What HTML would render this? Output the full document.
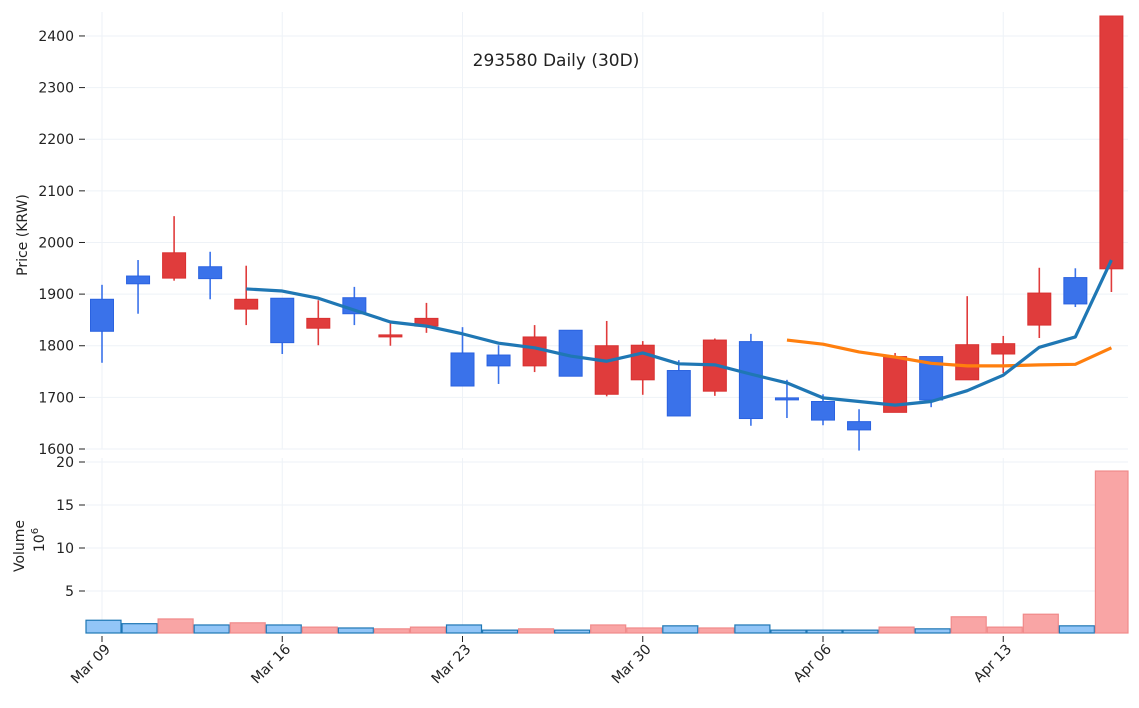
<!DOCTYPE html>
<html><head><meta charset="utf-8"><style>
body{margin:0;background:#fff;font-family:"DejaVu Sans","Liberation Sans",sans-serif}
svg text{font-family:"DejaVu Sans","Liberation Sans",sans-serif;fill:#222}
</style></head><body>
<svg id="c" width="1139" height="704"></svg>
<script>
const dates=["Mar 09","","","","","Mar 16","","","","","Mar 23","","","","","Mar 30","","","","","Apr 06","","","","","Apr 13","","",""];
const opens=[1890,1935,1931,1953,1871,1892,1834,1893,1818,1838,1786,1782,1761,1830,1706,1734,1752,1712,1808,1699,1692,1653,1671,1779,1734,1784,1840,1932,1949];
const closes=[1828,1920,1980,1930,1890,1806,1853,1862,1821,1853,1722,1761,1817,1741,1800,1801,1664,1811,1659,1696,1656,1637,1779,1695,1802,1804,1902,1881,2439];
const highs=[1918,1966,2051,1982,1955,1892,1888,1914,1844,1883,1836,1801,1840,1830,1848,1809,1772,1814,1823,1734,1706,1677,1786,1779,1896,1819,1951,1950,2439];
const lows=[1767,1862,1926,1890,1840,1784,1801,1840,1800,1825,1722,1726,1749,1741,1702,1705,1664,1703,1645,1660,1646,1597,1671,1681,1734,1747,1815,1875,1904];
const volumes=[1.6,1.2,1.75,1.05,1.3,1.05,0.8,0.7,0.6,0.8,1.05,0.45,0.6,0.45,1.05,0.7,0.95,0.7,1.05,0.45,0.45,0.45,0.8,0.6,2.0,0.8,2.3,0.95,18.95];
const ma5=[null,null,null,null,1910,1906,1892,1869,1846,1838,1823,1805,1796,1780,1770,1786,1765,1763,1745,1728,1699,1692,1685,1692,1713,1743,1797,1817,1966];
const ma20=[null,null,null,null,null,null,null,null,null,null,null,null,null,null,null,null,null,null,null,1811,1803,1788,1778,1766,1761,1761,1763,1764,1796];
const priceTicks=[1600,1700,1800,1900,2000,2100,2200,2300,2400];
const volTicks=[5,10,15,20];

const NS="http://www.w3.org/2000/svg",svg=document.getElementById('c');
function el(t,a,p){const e=document.createElementNS(NS,t);for(const k in a)e.setAttribute(k,a[k]);(p||svg).appendChild(e);return e;}
const X=i=>102+36.05*i;
const PY=p=>449-(p-1600)*0.5163;
const VY=v=>634-v*8.6;
const L=86,R=1128;

const g=el('g',{});


dates.forEach((d,i)=>{if(d){el('line',{x1:X(i),x2:X(i),y1:12,y2:449,stroke:'#eef2f7'},g);el('line',{x1:X(i),x2:X(i),y1:458,y2:633,stroke:'#eef2f7'},g);}});
priceTicks.forEach(p=>{el('line',{x1:L,x2:R,y1:PY(p),y2:PY(p),stroke:'#eef2f7'},g);
 const t=el('text',{x:74,y:PY(p)+5,'text-anchor':'end','font-size':14});t.textContent=p;
 
 el('line',{x1:79,x2:85,y1:PY(p),y2:PY(p),stroke:'#222'});});
volTicks.forEach(v=>{el('line',{x1:L,x2:R,y1:VY(v),y2:VY(v),stroke:'#eef2f7'},g);
 const t=el('text',{x:74,y:VY(v)+5,'text-anchor':'end','font-size':14});t.textContent=v;
 
 el('line',{x1:79,x2:85,y1:VY(v),y2:VY(v),stroke:'#222'});});

volumes.forEach((v,i)=>{const up=closes[i]>=opens[i];const top=Math.max(VY(v),462);
 const x0=X(i)-16,x1=Math.min(X(i)+19,R);
 const b=el('rect',{x:x0,y:top,width:x1-x0,height:633-top,fill:up?'#f9a5a5':'#92c5f7',stroke:up?'#f08a8a':'#1f77b4','stroke-width':1.2});
 });

opens.forEach((o,i)=>{const c=closes[i],up=c>=o,col=up?'#e03c3c':'#3a72ea',ed=up?'#d93030':'#2a62e0';
 const w=el('line',{x1:X(i),x2:X(i),y1:Math.max(PY(highs[i]),14),y2:PY(lows[i]),stroke:col,'stroke-width':1.6});
 
 const t=Math.max(PY(Math.max(o,c)),16),h=Math.max(PY(Math.min(o,c))-t,2);
 const r=el('rect',{x:X(i)-11.5,y:t,width:23,height:h,fill:col,stroke:ed,'stroke-width':1});
 });

function line(arr,color,name){let d='';arr.forEach((v,i)=>{if(v==null)return;d+=(d?'L':'M')+X(i)+' '+PY(v);});
 const p=el('path',{d:d,fill:'none',stroke:color,'stroke-width':3.2,'stroke-linejoin':'round'});
 }
line(ma20,'#ff7f0e','ma20-line');line(ma5,'#1f77b4','ma5-line');

dates.forEach((d,i)=>{if(!d)return;el('line',{x1:X(i),x2:X(i),y1:636,y2:642,stroke:'#222'});
 const ax=X(i)+9,ay=650;
 const t=el('text',{x:ax,y:ay,'text-anchor':'end','font-size':14,transform:`rotate(-45 ${ax} ${ay})`});t.textContent=d;
 });

let t=el('text',{x:556,y:66,'text-anchor':'middle','font-size':17});t.textContent='293580 Daily (30D)';

t=el('text',{x:27,y:235,'text-anchor':'middle','font-size':14,transform:'rotate(-90 27 235)'});t.textContent='Price (KRW)';

t=el('text',{x:24,y:546,'text-anchor':'middle','font-size':14,transform:'rotate(-90 24 546)'});t.textContent='Volume';

t=el('text',{x:44,y:540,'text-anchor':'middle','font-size':14,transform:'rotate(-90 44 540)'});t.innerHTML='10<tspan font-size="10" dy="-6">6</tspan>';

</script>
</body></html>
